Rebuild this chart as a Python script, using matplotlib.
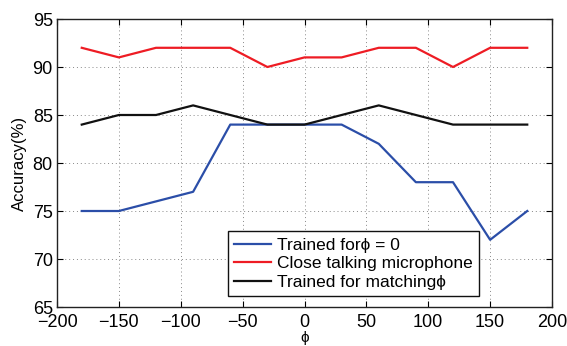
import matplotlib
matplotlib.use("Agg")
import matplotlib.pyplot as plt

phi = [-180, -150, -120, -90, -60, -30, 0, 30, 60, 90, 120, 150, 180]
trained_phi0 = [75, 75, 76, 77, 84, 84, 84, 84, 82, 78, 78, 72, 75]
close_talking = [92, 91, 92, 92, 92, 90, 91, 91, 92, 92, 90, 92, 92]
trained_matching = [84, 85, 85, 86, 85, 84, 84, 85, 86, 85, 84, 84, 84]

labels = ["Trained for\u03d5 = 0", "Close talking microphone", "Trained for matching\u03d5"]
xticks = [-200, -150, -100, -50, 0, 50, 100, 150, 200]
yticks = [65, 70, 75, 80, 85, 90, 95]

plt.rcParams['font.family'] = ['Liberation Sans', 'DejaVu Sans']
fig = plt.figure(figsize=(5.67, 3.46), dpi=100)
ax = fig.add_axes([57/567, 1 - 307/346, (552-57)/567, (307-19)/346])

ax.plot(phi, trained_phi0, color='#2b4ea8', lw=1.6, label=labels[0])
ax.plot(phi, close_talking, color='#ee1c24', lw=1.6, label=labels[1])
ax.plot(phi, trained_matching, color='#111111', lw=1.6, label=labels[2])

ax.set_xlim(-200, 200)
ax.set_ylim(65, 95)
ax.set_xticks(xticks)
ax.set_yticks(yticks)
ax.set_xticklabels([str(t).replace('-', '\u2212') for t in xticks])
ax.tick_params(direction='in', top=True, right=True, labelsize=13, length=4, width=0.8, pad=3)
ax.tick_params(axis='x', pad=5)
ax.grid(True, linestyle=(0, (1, 3)), color='#888888', lw=0.7)
for s in ax.spines.values():
    s.set_linewidth(1.0)
    s.set_color('#222222')
ax.set_xlabel('\u03d5', fontsize=11, labelpad=0)
ax.set_ylabel('Accuracy(%)', fontsize=12, labelpad=4)

leg = ax.legend(loc='lower left', bbox_to_anchor=((228-57)/495, (307-296)/288),
                fontsize=12.5, fancybox=False, framealpha=1, edgecolor='#111111',
                borderpad=0.35, labelspacing=0.2, handlelength=2.15, handletextpad=0.35, borderaxespad=0)
leg.get_frame().set_linewidth(1.0)

fig.savefig('out.png', dpi=100)
